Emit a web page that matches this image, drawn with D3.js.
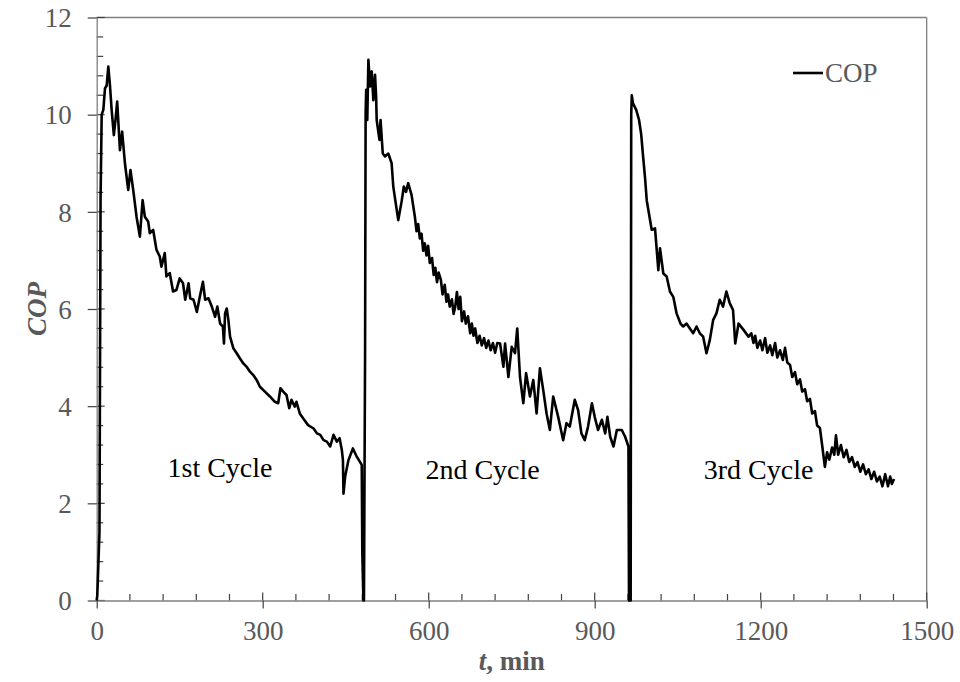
<!DOCTYPE html>
<html>
<head>
<meta charset="utf-8">
<script src="https://cdn.jsdelivr.net/npm/d3@7"></script>
<style>
  html, body { margin: 0; padding: 0; background: #fff; }
  svg { display: block; }
  text { font-family: "Liberation Serif", "Times New Roman", serif; }
</style>
</head>
<body>
<svg id="chart" width="960" height="682"></svg>
<script>
// ---- data (t in min, COP) ----
const cycle1 = [[0,0],[1,0.1],[5,1.4],[7,8.3],[9,10.0],[12,10.1],[15,10.54],[18,10.6],[21,10.99],[24,10.6],[27,10.1],[31,9.58],[34,9.9],[37,10.27],[42,9.27],[46,9.65],[51,9.0],[57,8.45],[61,8.86],[66,8.45],[72,7.9],[78,7.49],[83,8.24],[87,7.9],[93,7.8],[96,7.56],[102,7.63],[108,7.22],[114,7.08],[117,6.87],[123,7.15],[126,6.67],[132,6.74],[138,6.36],[144,6.39],[150,6.63],[156,6.53],[160,6.19],[166,6.53],[169,6.22],[175,6.19],[181,5.94],[187,6.29],[192,6.56],[196,6.19],[202,6.22],[208,6.05],[214,5.84],[218,6.05],[223,5.7],[228,5.64],[230,5.29],[232,5.91],[235,6.01],[238,5.77],[241,5.43],[247,5.19],[253,5.09],[259,4.98],[265,4.88],[271,4.81],[277,4.71],[283,4.64],[289,4.54],[295,4.4],[304,4.3],[313,4.2],[322,4.09],[328,4.06],[332,4.37],[337,4.3],[343,4.23],[348,3.96],[352,4.13],[358,3.99],[361,4.09],[367,3.85],[373,3.75],[382,3.61],[392,3.54],[398,3.44],[404,3.41],[410,3.3],[416,3.27],[422,3.17],[428,3.41],[434,3.27],[439,3.34],[443,3.1],[445,2.89],[446,2.2],[449,2.55],[455,2.89],[463,3.13],[470,2.96],[479,2.79],[480,1.0],[482,0]];
const cycle2 = [[483,0],[485,5],[486,10.0],[487,10.51],[489,9.89],[491,11.13],[494,10.58],[497,10.89],[500,10.3],[503,10.82],[505,10.37],[506,9.89],[511,9.48],[513,9.89],[517,9.2],[521,9.14],[527,9.2],[533,9.0],[536,8.52],[540,8.21],[545,7.83],[551,8.21],[555,8.52],[559,8.41],[563,8.59],[569,8.35],[575,7.9],[578,7.6],[581,7.75],[584,7.45],[587,7.55],[590,7.2],[593,7.35],[596,7.1],[599,7.3],[602,6.95],[606,7.05],[609,6.7],[612,6.85],[615,6.55],[618,6.75],[622,6.6],[625,6.3],[629,6.5],[632,6.15],[635,6.3],[638,6.05],[642,6.2],[645,5.9],[648,6.05],[651,6.35],[654,6.0],[657,6.25],[660,5.75],[664,5.95],[667,5.7],[671,5.85],[675,5.5],[678,5.7],[681,5.45],[684,5.6],[688,5.3],[692,5.45],[696,5.25],[700,5.4],[704,5.2],[708,5.35],[712,5.15],[716,5.3],[720,5.1],[724,5.3],[729,5.29],[735,4.81],[738,5.29],[744,4.6],[750,5.22],[756,5.09],[760,5.6],[765,4.6],[771,4.06],[776,4.68],[783,4.2],[789,4.54],[795,3.85],[801,4.78],[807,4.33],[813,3.85],[819,3.51],[825,4.2],[834,3.78],[843,3.3],[849,3.65],[855,3.58],[864,4.13],[870,3.92],[876,3.44],[882,3.3],[888,3.58],[895,4.06],[900,3.78],[906,3.51],[913,3.72],[919,3.44],[923,3.78],[928,3.37],[934,3.17],[940,3.51],[949,3.51],[955,3.37],[961,3.17],[962,0]];
const cycle3 = [[965,0],[966,10.0],[967,10.4],[969,10.24],[975,10.1],[980,9.9],[984,9.6],[987,9.2],[991,8.7],[994,8.24],[1003,7.63],[1009,7.66],[1015,6.8],[1018,7.25],[1024,6.73],[1030,6.67],[1036,6.36],[1042,6.25],[1048,5.91],[1055,5.7],[1060,5.64],[1066,5.7],[1072,5.6],[1078,5.5],[1084,5.64],[1090,5.5],[1096,5.43],[1102,5.09],[1108,5.36],[1114,5.77],[1120,5.91],[1126,6.19],[1132,6.05],[1138,6.36],[1144,6.12],[1150,5.98],[1154,5.29],[1160,5.7],[1169,5.57],[1178,5.43],[1183,5.5],[1187,5.3],[1190,5.45],[1194,5.2],[1199,5.35],[1203,5.15],[1208,5.4],[1212,5.1],[1217,5.25],[1221,5.05],[1226,5.3],[1230,5.0],[1235,5.15],[1240,4.95],[1244,5.2],[1248,4.9],[1253,4.85],[1257,4.6],[1262,4.7],[1266,4.45],[1271,4.55],[1275,4.3],[1280,4.35],[1284,4.1],[1289,4.15],[1293,3.85],[1298,3.9],[1302,3.6],[1307,3.55],[1311,3.2],[1316,2.75],[1320,3.05],[1324,2.9],[1329,3.15],[1333,3.0],[1336,3.4],[1340,3.0],[1345,3.2],[1350,2.95],[1355,3.1],[1360,2.85],[1365,2.95],[1370,2.75],[1375,2.85],[1380,2.65],[1385,2.8],[1390,2.6],[1395,2.7],[1400,2.5],[1405,2.65],[1410,2.45],[1415,2.55],[1420,2.35],[1425,2.6],[1430,2.35],[1434,2.55],[1437,2.4],[1441,2.5]];
const xTicks = [0, 300, 600, 900, 1200, 1500];
const yTicks = [0, 2, 4, 6, 8, 10, 12];
const cycleLabels = [
  {text: "1st Cycle", t: 128, cop: 2.55},
  {text: "2nd Cycle", t: 594, cop: 2.5},
  {text: "3rd Cycle", t: 1097, cop: 2.5}
];
const seriesName = "COP";

// ---- layout ----
const svg = d3.select("#chart");
const margin = {left: 96.7, right: 33.3, top: 17.5, bottom: 81.5};
const W = 960, H = 682;
const x = d3.scaleLinear().domain([0, 1500]).range([margin.left, W - margin.right]);
const y = d3.scaleLinear().domain([0, 12]).range([H - margin.bottom, margin.top]);
const axisColor = "#808080";
const tickColor = "#404040";
const labelColor = "#595959";

// frame (top & right)
svg.append("line").attr("x1", x(0)).attr("x2", x(1500)).attr("y1", y(12)).attr("y2", y(12))
  .attr("stroke", axisColor).attr("stroke-width", 1.3);
svg.append("line").attr("x1", x(1500)).attr("x2", x(1500)).attr("y1", y(12)).attr("y2", y(0))
  .attr("stroke", axisColor).attr("stroke-width", 1.3);

// minor ticks
const xMinor = d3.range(0, 1501, 60).filter(v => v % 300 !== 0);
const yMinor = d3.range(0, 12.001, 0.4).map(v => +v.toFixed(1)).filter(v => Math.abs(v / 2 - Math.round(v / 2)) > 1e-6);
svg.append("g").selectAll("line").data(xMinor).join("line")
  .attr("x1", d => x(d)).attr("x2", d => x(d)).attr("y1", y(0)).attr("y2", y(0) - 6.5)
  .attr("stroke", tickColor).attr("stroke-width", 1.2);
svg.append("g").selectAll("line").data(yMinor).join("line")
  .attr("x1", x(0)).attr("x2", x(0) + 6.5).attr("y1", d => y(d)).attr("y2", d => y(d))
  .attr("stroke", tickColor).attr("stroke-width", 1.2);
// inner parts of major ticks
svg.append("g").selectAll("line").data(xTicks).join("line")
  .attr("x1", d => x(d)).attr("x2", d => x(d)).attr("y1", y(0)).attr("y2", y(0) - 8)
  .attr("stroke", tickColor).attr("stroke-width", 1.2);
svg.append("g").selectAll("line").data(yTicks).join("line")
  .attr("x1", x(0)).attr("x2", x(0) + 8).attr("y1", d => y(d)).attr("y2", d => y(d))
  .attr("stroke", tickColor).attr("stroke-width", 1.2);

// axes
const xAxis = svg.append("g").attr("transform", `translate(0,${y(0)})`)
  .call(d3.axisBottom(x).tickValues(xTicks).tickSize(8).tickSizeOuter(0).tickPadding(12).tickFormat(d3.format("d")));
const yAxis = svg.append("g").attr("transform", `translate(${x(0)},0)`)
  .call(d3.axisLeft(y).tickValues(yTicks).tickSize(9).tickSizeOuter(0).tickPadding(16).tickFormat(d3.format("d")));
[xAxis, yAxis].forEach(g => {
  g.select(".domain").attr("stroke", axisColor).attr("stroke-width", 1.3);
  g.selectAll(".tick line").attr("stroke", tickColor).attr("stroke-width", 1.2);
  g.selectAll(".tick text").attr("fill", labelColor)
    .style("font-family", '"Liberation Serif", "Times New Roman", serif').style("font-size", "27px");
});
yAxis.selectAll(".tick text").attr("dy", "0.34em");

// line
const line = d3.line().x(d => x(d[0])).y(d => y(d[1]));
const allData = cycle1.concat(cycle2, cycle3);
svg.append("path").datum(allData).attr("d", line)
  .attr("fill", "none").attr("stroke", "#000").attr("stroke-width", 2.6)
  .attr("stroke-linejoin", "round").attr("stroke-linecap", "butt");

// cycle labels
svg.append("g").selectAll("text").data(cycleLabels).join("text")
  .attr("x", d => x(d.t)).attr("y", d => y(d.cop))
  .attr("fill", "#000").style("font-size", "28px").text(d => d.text);

// legend
svg.append("line").attr("x1", 793).attr("x2", 823).attr("y1", 73).attr("y2", 73)
  .attr("stroke", "#000").attr("stroke-width", 2.6);
svg.append("text").attr("x", 825).attr("y", 82).attr("fill", labelColor)
  .style("font-size", "27px").text(seriesName);

// axis titles
const xt = svg.append("text").attr("x", (x(0) + x(1500)) / 2).attr("y", 670)
  .attr("text-anchor", "middle").attr("fill", labelColor)
  .style("font-size", "27px").style("font-weight", "bold");
xt.append("tspan").style("font-style", "italic").text("t");
xt.append("tspan").text(", min");
svg.append("text").attr("transform", `translate(46,${(y(0) + y(12)) / 2}) rotate(-90)`)
  .attr("text-anchor", "middle").attr("fill", labelColor)
  .style("font-size", "27px").style("font-weight", "bold").style("font-style", "italic")
  .text("COP");
</script>
</body>
</html>
